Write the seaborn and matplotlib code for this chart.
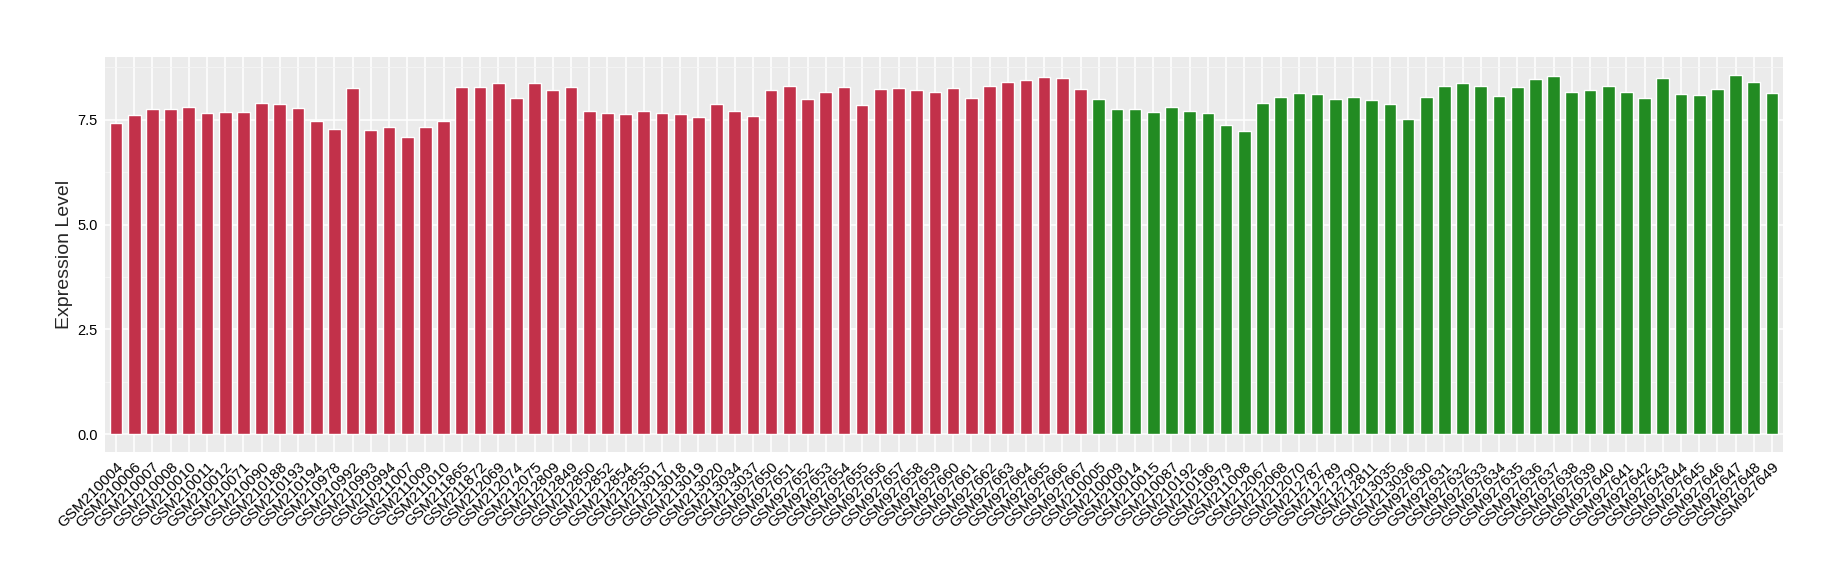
import numpy as np
import pandas as pd
import matplotlib
matplotlib.use("Agg")
import matplotlib.pyplot as plt
import seaborn as sns
from matplotlib.ticker import MultipleLocator

# -------------------------------
# Data
# -------------------------------

red_samples = [
    "GSM210004", "GSM210006", "GSM210007", "GSM210008", "GSM210010", "GSM210011",
    "GSM210012", "GSM210071", "GSM210090", "GSM210188", "GSM210193", "GSM210194",
    "GSM210978", "GSM210992", "GSM210993", "GSM210994", "GSM211007", "GSM211009",
    "GSM211010", "GSM211865", "GSM211872", "GSM212069", "GSM212074", "GSM212075",
    "GSM212809", "GSM212849", "GSM212850", "GSM212852", "GSM212854", "GSM212855",
    "GSM213017", "GSM213018", "GSM213019", "GSM213020", "GSM213034", "GSM213037",
    "GSM927650", "GSM927651", "GSM927652", "GSM927653", "GSM927654", "GSM927655",
    "GSM927656", "GSM927657", "GSM927658", "GSM927659", "GSM927660", "GSM927661",
    "GSM927662", "GSM927663", "GSM927664", "GSM927665", "GSM927666", "GSM927667",
]
red_values = [
    7.42, 7.61, 7.76, 7.76, 7.80, 7.66, 7.68, 7.68, 7.90, 7.87, 7.78, 7.47,
    7.28, 8.26, 7.25, 7.32, 7.09, 7.32, 7.47, 8.28, 8.28, 8.38, 8.02, 8.38,
    8.21, 8.28, 7.71, 7.66, 7.64, 7.71, 7.66, 7.64, 7.56, 7.87, 7.71, 7.59,
    8.21, 8.31, 7.99, 8.16, 8.28, 7.85, 8.23, 8.26, 8.21, 8.16, 8.26, 8.02,
    8.31, 8.40, 8.45, 8.52, 8.49, 8.23,
]

green_samples = [
    "GSM210005", "GSM210009", "GSM210014", "GSM210015", "GSM210087", "GSM210192",
    "GSM210196", "GSM210979", "GSM211008", "GSM212067", "GSM212068", "GSM212070",
    "GSM212787", "GSM212789", "GSM212790", "GSM212811", "GSM213035", "GSM213036",
    "GSM927630", "GSM927631", "GSM927632", "GSM927633", "GSM927634", "GSM927635",
    "GSM927636", "GSM927637", "GSM927638", "GSM927639", "GSM927640", "GSM927641",
    "GSM927642", "GSM927643", "GSM927644", "GSM927645", "GSM927646", "GSM927647",
    "GSM927648", "GSM927649",
]
green_values = [
    7.99, 7.76, 7.76, 7.68, 7.80, 7.71, 7.66, 7.37, 7.23, 7.90, 8.04, 8.14,
    8.11, 7.99, 8.04, 7.97, 7.87, 7.52, 8.04, 8.31, 8.38, 8.31, 8.07, 8.28,
    8.47, 8.55, 8.16, 8.21, 8.31, 8.16, 8.02, 8.49, 8.11, 8.09, 8.23, 8.57,
    8.40, 8.14,
]

data = pd.DataFrame({
    "sample": red_samples + green_samples,
    "value": red_values + green_values,
    "group": ["red"] * len(red_samples) + ["green"] * len(green_samples),
})

# -------------------------------
# Plot
# -------------------------------

sns.set_theme(style="darkgrid", rc={
    "axes.facecolor": "#EBEBEB",
    "grid.color": "white",
})
plt.rcParams["font.family"] = ["Liberation Sans", "DejaVu Sans"]

fig = plt.figure(figsize=(18.4, 5.8), dpi=100)
ax = fig.add_axes([0.0571, 0.2207, 0.9119, 0.681])

sns.barplot(data=data, x="sample", y="value", hue="group",
            palette={"red": "#C2314A", "green": "#228B22"},
            width=0.7, dodge=False, legend=False, saturation=1,
            order=data["sample"], ax=ax)

n = len(data)
ax.set_xlim(-0.6, n - 1 + 0.6)
top = max(data["value"])
ax.set_ylim(-0.05 * top, top * 1.05)

ax.yaxis.set_minor_locator(MultipleLocator(1.25))
ax.set_yticks([0, 2.5, 5.0, 7.5])
ax.set_yticklabels(["0.0", "2.5", "5.0", "7.5"])
ax.grid(which="major", color="white", linewidth=1.1)
ax.grid(which="minor", axis="y", color="#F5F5F5", linewidth=0.6)
ax.set_axisbelow(True)
for s in ax.spines.values():
    s.set_visible(False)

ax.tick_params(axis="both", which="major", length=3.5, width=0.8,
               color="#333333", labelcolor="black", labelsize=10.5, pad=2)
ax.tick_params(axis="x", labelsize=11)
ax.tick_params(axis="y", which="minor", length=0)
plt.setp(ax.get_xticklabels(), rotation=45, ha="right", rotation_mode="anchor")

ax.set_xlabel("")
ax.set_ylabel("Expression Level", fontsize=14, labelpad=3)

fig.savefig("out.png", dpi=100)
